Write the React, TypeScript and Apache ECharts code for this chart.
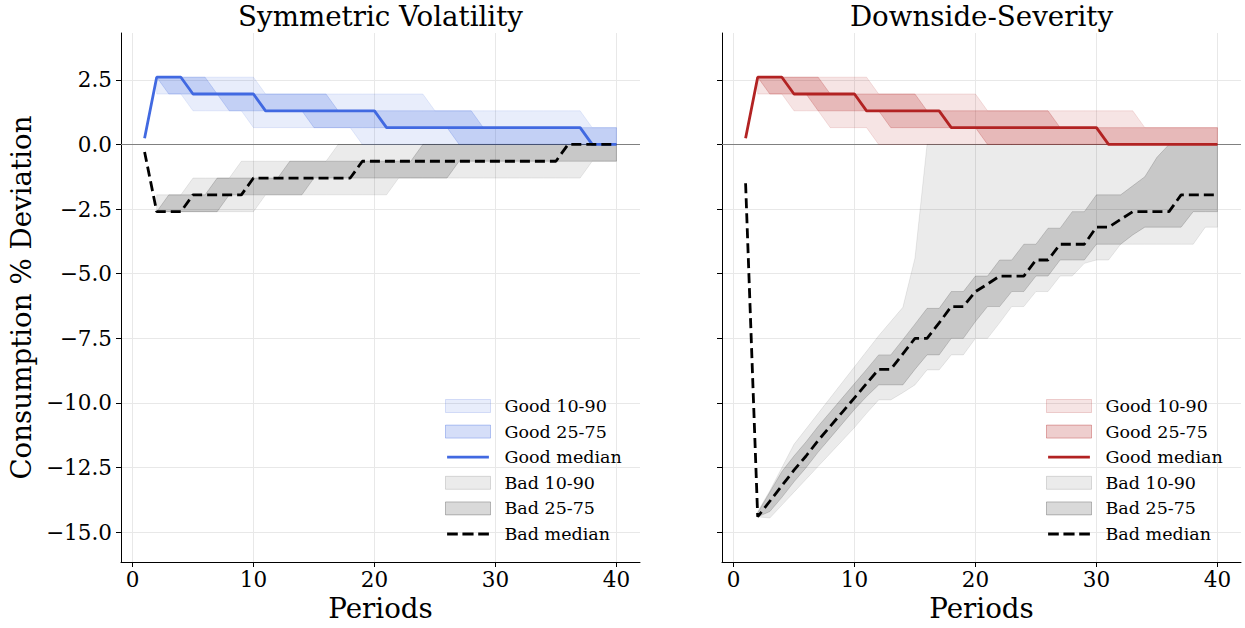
import React, { useEffect, useRef } from "react";
import * as echarts from "echarts";

// ---------- data ----------
const periods = [
  1, 2, 3, 4, 5, 6, 7, 8, 9, 10, 11, 12, 13, 14, 15, 16, 17, 18, 19, 20,
  21, 22, 23, 24, 25, 26, 27, 28, 29, 30, 31, 32, 33, 34, 35, 36, 37, 38, 39, 40,
];
const xTicks = [0, 10, 20, 30, 40];
const yTicks = [-15, -12.5, -10, -7.5, -5, -2.5, 0, 2.5];
const panelTitles = ["Symmetric Volatility", "Downside-Severity"];
const legendNames = ["Good 10-90", "Good 25-75", "Good median", "Bad 10-90", "Bad 25-75", "Bad median"];

// Left panel: Symmetric Volatility
const symGoodMedian = [0.24, 2.6, 2.6, 2.6, 1.95, 1.95, 1.95, 1.95, 1.95, 1.95, 1.3, 1.3, 1.3, 1.3, 1.3, 1.3, 1.3, 1.3, 1.3, 1.3, 0.65, 0.65, 0.65, 0.65, 0.65, 0.65, 0.65, 0.65, 0.65, 0.65, 0.65, 0.65, 0.65, 0.65, 0.65, 0.65, 0.65, 0, 0, 0];
const symGoodP75 = [null, 2.6, 2.6, 2.6, 2.6, 2.6, 1.95, 1.95, 1.95, 1.95, 1.95, 1.95, 1.95, 1.95, 1.95, 1.95, 1.3, 1.3, 1.3, 1.3, 1.3, 1.3, 1.3, 1.3, 1.3, 1.3, 1.3, 1.3, 0.65, 0.65, 0.65, 0.65, 0.65, 0.65, 0.65, 0.65, 0.65, 0.65, 0.65, 0.65];
const symGoodP25 = [null, 2.6, 1.95, 1.95, 1.95, 1.95, 1.95, 1.3, 1.3, 1.3, 1.3, 1.3, 1.3, 1.3, 0.65, 0.65, 0.65, 0.65, 0.65, 0.65, 0.65, 0.65, 0.65, 0.65, 0.65, 0.65, 0, 0, 0, 0, 0, 0, 0, 0, 0, 0, 0, 0, 0, 0];
const symGoodP90 = [null, 2.6, 2.6, 2.6, 2.6, 2.6, 2.6, 2.6, 2.6, 2.6, 1.95, 1.95, 1.95, 1.95, 1.95, 1.95, 1.95, 1.95, 1.95, 1.95, 1.95, 1.95, 1.95, 1.95, 1.3, 1.3, 1.3, 1.3, 1.3, 1.3, 1.3, 1.3, 1.3, 1.3, 1.3, 1.3, 1.3, 0.65, 0.65, 0.65];
const symGoodP10 = [null, 1.95, 1.95, 1.95, 1.3, 1.3, 1.3, 1.3, 1.3, 0.65, 0.65, 0.65, 0.65, 0.65, 0.65, 0.65, 0.65, 0.65, 0, 0, 0, 0, 0, 0, 0, 0, 0, 0, 0, 0, 0, 0, 0, 0, 0, 0, 0, 0, 0, 0];
const symBadMedian = [-0.29, -2.6, -2.6, -2.6, -1.95, -1.95, -1.95, -1.95, -1.95, -1.3, -1.3, -1.3, -1.3, -1.3, -1.3, -1.3, -1.3, -1.3, -0.65, -0.65, -0.65, -0.65, -0.65, -0.65, -0.65, -0.65, -0.65, -0.65, -0.65, -0.65, -0.65, -0.65, -0.65, -0.65, -0.65, 0, 0, 0, 0, 0];
const symBadP75 = [null, -2.6, -1.95, -1.95, -1.95, -1.95, -1.3, -1.3, -1.3, -1.3, -1.3, -1.3, -0.65, -0.65, -0.65, -0.65, -0.65, -0.65, -0.65, -0.65, -0.65, -0.65, -0.65, 0, 0, 0, 0, 0, 0, 0, 0, 0, 0, 0, 0, 0, 0, 0, 0, 0];
const symBadP25 = [null, -2.6, -2.6, -2.6, -2.6, -2.6, -2.6, -1.95, -1.95, -1.95, -1.95, -1.95, -1.95, -1.95, -1.3, -1.3, -1.3, -1.3, -1.3, -1.3, -1.3, -1.3, -1.3, -1.3, -1.3, -1.3, -0.65, -0.65, -0.65, -0.65, -0.65, -0.65, -0.65, -0.65, -0.65, -0.65, -0.65, -0.65, -0.65, -0.65];
const symBadP90 = [null, -1.95, -1.95, -1.95, -1.3, -1.3, -1.3, -1.3, -0.65, -0.65, -0.65, -0.65, -0.65, -0.65, -0.65, -0.65, 0, 0, 0, 0, 0, 0, 0, 0, 0, 0, 0, 0, 0, 0, 0, 0, 0, 0, 0, 0, 0, 0, 0, 0];
const symBadP10 = [null, -2.6, -2.6, -2.6, -2.6, -2.6, -2.6, -2.6, -2.6, -2.6, -1.95, -1.95, -1.95, -1.95, -1.95, -1.95, -1.95, -1.95, -1.95, -1.95, -1.95, -1.3, -1.3, -1.3, -1.3, -1.3, -1.3, -1.3, -1.3, -1.3, -1.3, -1.3, -1.3, -1.3, -1.3, -1.3, -1.3, -0.65, -0.65, -0.65];

// Right panel: Downside-Severity
const dsGoodMedian = [0.24, 2.6, 2.6, 2.6, 1.95, 1.95, 1.95, 1.95, 1.95, 1.95, 1.3, 1.3, 1.3, 1.3, 1.3, 1.3, 1.3, 0.65, 0.65, 0.65, 0.65, 0.65, 0.65, 0.65, 0.65, 0.65, 0.65, 0.65, 0.65, 0.65, 0, 0, 0, 0, 0, 0, 0, 0, 0, 0];
const dsGoodP75 = [null, 2.6, 2.6, 2.6, 2.6, 2.6, 2.6, 1.95, 1.95, 1.95, 1.95, 1.95, 1.95, 1.95, 1.95, 1.3, 1.3, 1.3, 1.3, 1.3, 1.3, 1.3, 1.3, 1.3, 1.3, 1.3, 0.65, 0.65, 0.65, 0.65, 0.65, 0.65, 0.65, 0.65, 0.65, 0.65, 0.65, 0.65, 0.65, 0.65];
const dsGoodP25 = [null, 2.6, 1.95, 1.95, 1.95, 1.95, 1.3, 1.3, 1.3, 1.3, 1.3, 1.3, 0.65, 0.65, 0.65, 0.65, 0.65, 0.65, 0.65, 0.65, 0, 0, 0, 0, 0, 0, 0, 0, 0, 0, 0, 0, 0, 0, 0, 0, 0, 0, 0, 0];
const dsGoodP90 = [null, 2.6, 2.6, 2.6, 2.6, 2.6, 2.6, 2.6, 2.6, 2.6, 2.6, 1.95, 1.95, 1.95, 1.95, 1.95, 1.95, 1.95, 1.95, 1.95, 1.3, 1.3, 1.3, 1.3, 1.3, 1.3, 1.3, 1.3, 1.3, 1.3, 1.3, 1.3, 1.3, 0.65, 0.65, 0.65, 0.65, 0.65, 0.65, 0.65];
const dsGoodP10 = [null, 1.95, 1.95, 1.95, 1.3, 1.3, 1.3, 0.65, 0.65, 0.65, 0.65, 0, 0, 0, 0, 0, 0, 0, 0, 0, 0, 0, 0, 0, 0, 0, 0, 0, 0, 0, 0, 0, 0, 0, 0, 0, 0, 0, 0, 0];
const dsBadMedian = [-1.5, -14.4, -13.8, -13.2, -12.6, -12.05, -11.45, -10.9, -10.35, -9.8, -9.25, -8.7, -8.7, -8.1, -7.5, -7.5, -6.9, -6.27, -6.27, -5.69, -5.4, -5.09, -5.09, -5.09, -4.47, -4.47, -3.86, -3.86, -3.86, -3.2, -3.2, -2.9, -2.6, -2.6, -2.6, -2.6, -1.95, -1.95, -1.95, -1.95];
const dsBadP75 = [null, -14.25, -13.45, -12.65, -12.05, -11.5, -10.9, -10.35, -9.8, -9.25, -8.7, -8.14, -8.14, -7.55, -6.95, -6.34, -6.34, -5.69, -5.69, -5.09, -5.09, -4.47, -4.47, -3.86, -3.86, -3.24, -3.24, -2.6, -2.6, -1.95, -1.95, -1.95, -1.6, -1.25, -0.5, 0, 0, 0, 0, 0];
const dsBadP25 = [null, -14.4, -14.2, -13.65, -13.05, -12.5, -11.9, -11.35, -10.8, -10.25, -9.75, -9.3, -9.3, -9.3, -8.7, -8.14, -8.14, -7.5, -7.5, -6.85, -6.27, -6.27, -5.69, -5.69, -5.09, -5.09, -4.47, -4.47, -4.47, -3.86, -3.86, -3.86, -3.5, -3.2, -3.2, -3.2, -3.2, -2.6, -2.6, -2.6];
const dsBadP90 = [null, -14.2, -13.4, -12.5, -11.6, -11.0, -10.4, -9.8, -9.2, -8.6, -8.0, -7.4, -6.85, -6.3, -4.4, 0, 0, 0, 0, 0, 0, 0, 0, 0, 0, 0, 0, 0, 0, 0, 0, 0, 0, 0, 0, 0, 0, 0, 0, 0];
const dsBadP10 = [null, -14.4, -14.45, -13.95, -13.45, -12.95, -12.45, -11.95, -11.45, -10.95, -10.4, -9.88, -9.88, -9.6, -9.3, -8.72, -8.72, -8.14, -8.14, -7.5, -7.5, -6.9, -6.27, -6.27, -5.69, -5.69, -5.09, -5.09, -4.6, -4.47, -4.47, -3.86, -3.86, -3.86, -3.86, -3.86, -3.86, -3.86, -3.2, -3.2];

// ---------- styling ----------
const FONT = "DejaVu Serif";
const X_MIN = -0.95;
const X_MAX = 41.95;
const Y_MIN = -16.15;
const Y_MAX = 4.31;
const GRIDS = [
  { left: 121, top: 33, width: 519, height: 529 },
  { left: 722, top: 33, width: 519, height: 529 },
];
const BLUE = "#4169E1";
const RED = "#B22222";
const A_OUTER = 0.12;
const A_INNER = 0.22;
const G_OUTER = 0.08;
const G_INNER = 0.15;

const SOLID_ICON = "path://M0,0M0,5.5L45,5.5L45,8.5L0,8.5ZM45,14";
const DASH_ICON =
  "path://M0,0M0,5.5L11.5,5.5L11.5,8.5L0,8.5ZM16.5,5.5L28.5,5.5L28.5,8.5L16.5,8.5ZM33.5,5.5L45,5.5L45,8.5L33.5,8.5ZM45,14";

function rgba(hex: string, a: number) {
  const n = parseInt(hex.slice(1), 16);
  return `rgba(${(n >> 16) & 255},${(n >> 8) & 255},${n & 255},${a})`;
}

function toPairs(vals: (number | null)[]) {
  const out: number[][] = [];
  vals.forEach((v, i) => {
    if (v !== null) out.push([periods[i], v]);
  });
  return out;
}

// band drawn as a single polygon through the axes' scales (api.coord)
function bandSeries(g: number, name: string, lo: (number | null)[], hi: (number | null)[], color: string, alpha: number) {
  const rows: number[][] = [];
  lo.forEach((v, i) => {
    const h = hi[i];
    if (v !== null && h !== null) rows.push([periods[i], v, h]);
  });
  return {
    type: "custom",
    name,
    xAxisIndex: g,
    yAxisIndex: g,
    data: rows,
    encode: { x: 0, y: [1, 2] },
    silent: true,
    clip: true,
    z: 2,
    itemStyle: { color },
    renderItem: (params: any, api: any) => {
      if (params.dataIndexInside !== 0) return null;
      const n = params.dataInsideLength;
      const upper: number[][] = [];
      const lower: number[][] = [];
      for (let i = 0; i < n; i++) {
        upper.push(api.coord([api.value(0, i), api.value(2, i)]));
        lower.push(api.coord([api.value(0, i), api.value(1, i)]));
      }
      return {
        type: "polygon",
        shape: { points: upper.concat(lower.reverse()) },
        style: { fill: rgba(color, alpha), stroke: rgba(color, alpha), lineWidth: 1 },
      };
    },
  };
}

function medianSeries(g: number, name: string, vals: number[], color: string, dashed: boolean, extra?: any) {
  return {
    type: "line",
    name,
    xAxisIndex: g,
    yAxisIndex: g,
    data: toPairs(vals),
    symbol: "none",
    silent: true,
    itemStyle: { color },
    lineStyle: { color, width: 2.8, type: dashed ? [10, 5] : "solid", cap: "butt" },
    z: 3,
    ...(extra || {}),
  };
}

const zeroLine = {
  markLine: {
    silent: true,
    symbol: ["none", "none"],
    label: { show: false },
    lineStyle: { color: "#808080", width: 1, type: "solid" },
    data: [{ yAxis: 0 }],
    z: 1,
  },
};

function panelSeries(g: number, good: string, gm: number[], g75: any[], g25: any[], g90: any[], g10: any[], bm: number[], b75: any[], b25: any[], b90: any[], b10: any[]) {
  return [
    bandSeries(g, legendNames[0], g10, g90, good, A_OUTER),
    bandSeries(g, legendNames[1], g25, g75, good, A_INNER),
    medianSeries(g, legendNames[2], gm, good, false, zeroLine),
    bandSeries(g, legendNames[3], b10, b90, "#000000", G_OUTER),
    bandSeries(g, legendNames[4], b25, b75, "#000000", G_INNER),
    medianSeries(g, legendNames[5], bm, "#000000", true),
  ];
}

function legendFor(g: number, good: string) {
  return {
    left: GRIDS[g].left + 324,
    top: 397,
    orient: "vertical",
    padding: 0,
    itemWidth: 45,
    itemHeight: 13,
    itemGap: 7.6,
    selectedMode: false,
    textStyle: { fontFamily: FONT, fontSize: 17.5, color: "#000", padding: [0, 0, 0, 9] },
    data: [
      { name: legendNames[0], icon: "rect", itemStyle: { color: rgba(good, A_OUTER), borderColor: rgba(good, A_OUTER * 1.6), borderWidth: 1 } },
      { name: legendNames[1], icon: "rect", itemStyle: { color: rgba(good, A_INNER), borderColor: rgba(good, A_INNER * 1.6), borderWidth: 1 } },
      { name: legendNames[2], icon: SOLID_ICON, itemStyle: { color: good, borderWidth: 0 } },
      { name: legendNames[3], icon: "rect", itemStyle: { color: rgba("#000000", G_OUTER), borderColor: rgba("#000000", G_OUTER * 1.6), borderWidth: 1 } },
      { name: legendNames[4], icon: "rect", itemStyle: { color: rgba("#000000", G_INNER), borderColor: rgba("#000000", G_INNER * 1.6), borderWidth: 1 } },
      { name: legendNames[5], icon: DASH_ICON, itemStyle: { color: "#000000", borderWidth: 0 } },
    ],
  };
}

const fmtY = (v: number) => (v < 0 ? "\u2212" : "") + Math.abs(v).toFixed(1);

function buildOption(): any {
  const axisLineStyle = { color: "#000", width: 1 };
  const splitLineStyle = { color: "#e8e8e8", width: 1 };
  return {
    animation: false,
    backgroundColor: "#ffffff",
    title: panelTitles.map((t, g) => ({
      text: t,
      left: GRIDS[g].left + GRIDS[g].width / 2,
      top: 2,
      textAlign: "center",
      padding: 0,
      textStyle: { fontFamily: FONT, fontSize: 27.7, fontWeight: "normal", color: "#000" },
    })),
    grid: GRIDS.map((r) => ({ ...r, containLabel: false, outerBoundsMode: "none" })),
    legend: [legendFor(0, BLUE), legendFor(1, RED)],
    xAxis: GRIDS.map((_, g) => ({
      type: "value",
      gridIndex: g,
      min: X_MIN,
      max: X_MAX,
      name: "Periods",
      nameLocation: "middle",
      nameGap: 31,
      nameTextStyle: { fontFamily: FONT, fontSize: 27.7, color: "#000" },
      axisLine: { show: true, onZero: false, lineStyle: axisLineStyle },
      axisTick: { show: true, length: 5, customValues: xTicks, lineStyle: axisLineStyle },
      axisLabel: { show: true, customValues: xTicks, margin: 6, fontFamily: FONT, fontSize: 21.5, color: "#000" },
      splitLine: { show: true, lineStyle: splitLineStyle },
      minorTick: { show: false },
    })),
    yAxis: GRIDS.map((_, g) => ({
      type: "value",
      gridIndex: g,
      min: Y_MIN,
      max: Y_MAX,
      name: g === 0 ? "Consumption % Deviation" : "",
      nameLocation: "middle",
      nameGap: 86,
      nameTextStyle: { fontFamily: FONT, fontSize: 27.7, color: "#000" },
      axisLine: { show: true, onZero: false, lineStyle: axisLineStyle },
      axisTick: { show: true, length: 5, customValues: yTicks, lineStyle: axisLineStyle },
      axisLabel: { show: g === 0, customValues: yTicks, margin: 9, formatter: fmtY, fontFamily: FONT, fontSize: 21.5, color: "#000" },
      splitLine: { show: true, lineStyle: splitLineStyle },
    })),
    series: [
      ...panelSeries(0, BLUE, symGoodMedian, symGoodP75, symGoodP25, symGoodP90, symGoodP10, symBadMedian, symBadP75, symBadP25, symBadP90, symBadP10),
      ...panelSeries(1, RED, dsGoodMedian, dsGoodP75, dsGoodP25, dsGoodP90, dsGoodP10, dsBadMedian, dsBadP75, dsBadP25, dsBadP90, dsBadP10),
    ],
  };
}

export default function App() {
  const ref = useRef<HTMLDivElement>(null);
  useEffect(() => {
    if (!ref.current) return;
    const chart = echarts.init(ref.current, null, { renderer: "svg" });
    chart.setOption(buildOption());
    return () => {
      chart.dispose();
    };
  }, []);
  return (
    <div
      ref={ref}
      style={{ position: "fixed", left: 0, top: 0, width: 1245, height: 628, background: "#fff" }}
    />
  );
}
